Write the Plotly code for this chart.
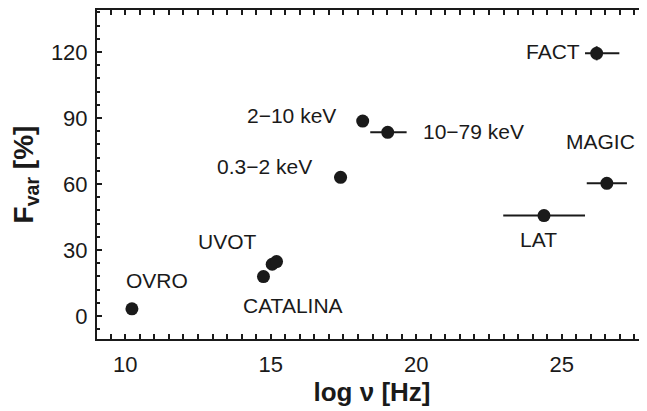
import plotly.graph_objects as go

# ---- data ----
bands = ["OVRO", "CATALINA", "UVOT", "UVOT", "0.3\u22122 keV", "2\u221210 keV",
         "10\u221279 keV", "LAT", "MAGIC", "FACT"]
log_nu = [10.23, 14.75, 15.05, 15.20, 17.40, 18.16, 19.02, 24.39, 26.55, 26.20]
fvar = [3.2, 17.9, 23.5, 24.7, 63.0, 88.6, 83.5, 45.6, 60.3, 119.4]
xerr_plus = [0, 0, 0, 0, 0.22, 0, 0.65, 1.41, 0.69, 0.78]
xerr_minus = [0, 0, 0, 0, 0.22, 0, 0.60, 1.40, 0.69, 0.40]
yerr = [0, 0, 0, 0, 0, 0, 0, 0, 0, 3.2]
show_label = [True, True, False, True, True, True, True, True, True, True]

x_ticks = [10, 15, 20, 25]
y_ticks = [0, 30, 60, 90, 120]

# label offsets in pixels relative to each point (layout, not data)
label_shift = {
    "OVRO": (25, 28), "CATALINA": (30, -29), "UVOT": (-49, 20),
    "0.3\u22122 keV": (-76, 11), "2\u221210 keV": (-71, 6),
    "10\u221279 keV": (86, 1), "LAT": (-5, -24), "MAGIC": (-6, 42),
    "FACT": (-44, 2),
}

ink = "#1a1a1a"
font_family = "Liberation Sans, Arial, sans-serif"

fig = go.Figure()
fig.add_trace(go.Scatter(
    x=log_nu, y=fvar, mode="markers",
    marker=dict(size=13, color=ink),
    error_x=dict(type="data", symmetric=False, array=xerr_plus,
                 arrayminus=xerr_minus, color=ink, thickness=2, width=0),
    error_y=dict(type="data", array=yerr, color=ink, thickness=2, width=0),
    showlegend=False, hoverinfo="skip",
))
# invisible trace to host right-side ticks
fig.add_trace(go.Scatter(x=[log_nu[0]], y=[fvar[0]], yaxis="y2",
                         mode="markers", marker=dict(opacity=0),
                         showlegend=False, hoverinfo="skip"))

for name, x, y, show in zip(bands, log_nu, fvar, show_label):
    if not show:
        continue
    dx, dy = label_shift[name]
    fig.add_annotation(x=x, y=y, text=name, showarrow=False,
                       xshift=dx, yshift=dy,
                       font=dict(size=21, color=ink, family=font_family))

xr = [9.03, 27.93]
yr = [-10.5, 139.1]

fig.update_layout(
    width=639, height=403,
    margin=dict(l=89, r=0, t=2, b=72),
    paper_bgcolor="white", plot_bgcolor="white",
    font=dict(family=font_family, color=ink, size=22),
    xaxis=dict(
        range=xr, tickvals=x_ticks, ticks="inside", ticklen=5, tickwidth=2,
        tickcolor=ink, showline=True, linewidth=2, linecolor=ink,
        mirror="allticks", showgrid=False, zeroline=False,
        tickfont=dict(size=22), ticklabelstandoff=5,
        minor=dict(dtick=0.5, ticks="inside", ticklen=2.5, tickwidth=1.5,
                   tickcolor=ink, showgrid=False),
        title=dict(text="<b>log \u03bd [Hz]</b>", font=dict(size=26), standoff=6),
    ),
    yaxis=dict(
        range=yr, tickvals=y_ticks, ticks="inside", ticklen=5, tickwidth=2,
        tickcolor=ink, showline=True, linewidth=2, linecolor=ink,
        mirror=False, showgrid=False, zeroline=False,
        tickfont=dict(size=22), ticklabelstandoff=3,
        minor=dict(dtick=6, tick0=0, ticks="inside", ticklen=2.5, tickwidth=1.5,
                   tickcolor=ink, showgrid=False),
        title=dict(text="<b>F<sub>var</sub> [%]</b>", font=dict(size=28), standoff=16),
    ),
    yaxis2=dict(
        range=yr, overlaying="y", side="right", tickvals=y_ticks,
        ticks="inside", ticklen=5, tickwidth=2, tickcolor=ink,
        showticklabels=False, showline=False, showgrid=False, zeroline=False,
        minor=dict(dtick=6, tick0=0, ticks="inside", ticklen=2.5, tickwidth=1.5,
                   tickcolor=ink, showgrid=False),
    ),
)

fig.write_html("out.html")
